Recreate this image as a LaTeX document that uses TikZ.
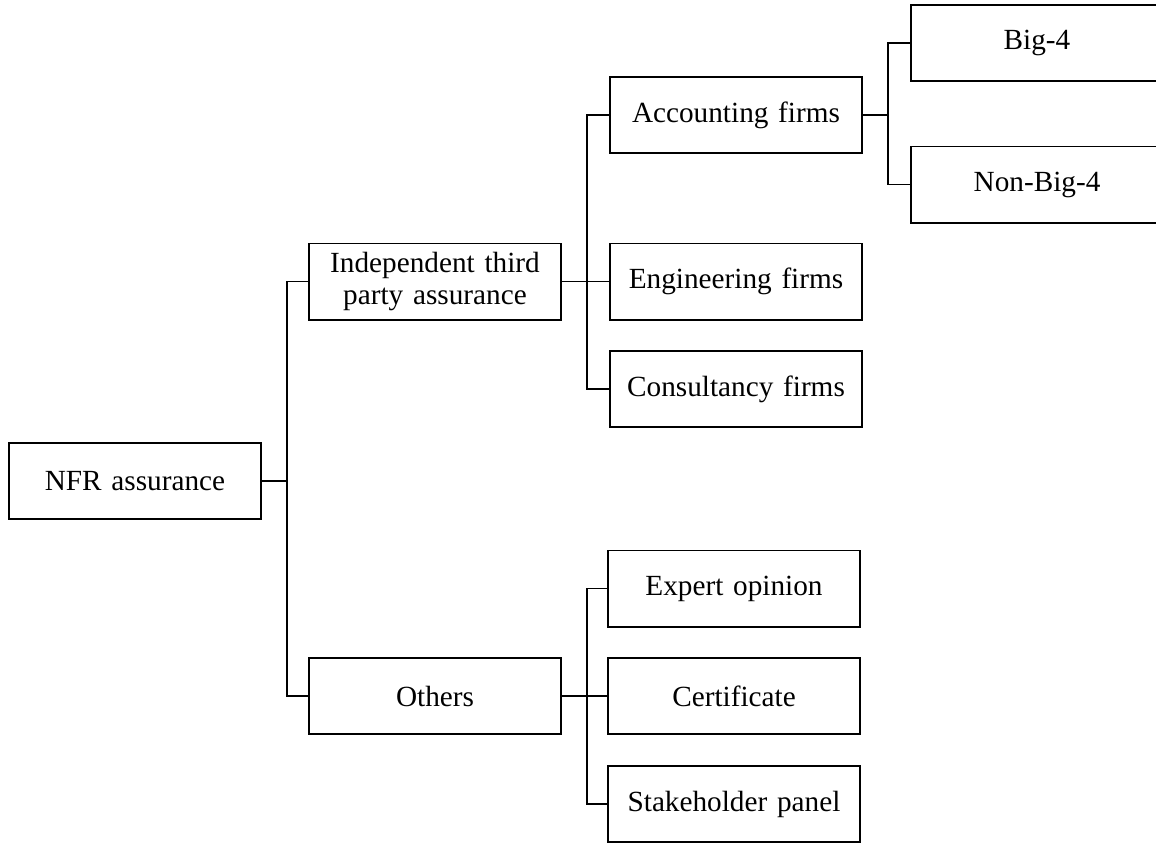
\documentclass[tikz,border=0pt]{standalone}
\usepackage{fontspec}
\setmainfont{Liberation Serif}
\usepackage{tikz}
\usetikzlibrary{positioning}

\begin{document}
\begin{tikzpicture}[
          x=0.025cm, y=-0.025cm,
          box/.style={draw=black, line width=1.4pt, fill=white,
                      font=\fontsize{20.8}{23}\selectfont,
                      minimum width=6.3cm, minimum height=1.9cm,
                      text width=6.1cm, align=center, inner sep=0pt},
          link/.style={draw=black, line width=1.4pt}
        ]
        \useasboundingbox (0,0) rectangle (1156,843);
        \node[box] (nfr)  at (135,481)   {NFR assurance};
        \node[box] (itpa) at (435,281.5) {Independent third\\party assurance};
        \node[box] (oth)  at (435,696)   {Others};
        \node[box] (acc)  at (736,115)   {Accounting firms};
        \node[box] (eng)  at (736,281.5) {Engineering firms};
        \node[box] (con)  at (736,389)   {Consultancy firms};
        \node[box] (exp)  at (734,588.5) {Expert opinion};
        \node[box] (cer)  at (734,696)   {Certificate};
        \node[box] (stk)  at (734,804)   {Stakeholder panel};
        \node[box] (big)  at (1037,43)   {Big-4};
        \node[box] (nbig) at (1037,184.5) {Non-Big-4};
        \foreach \x/\y in {nfr/itpa, nfr/oth, itpa/acc, itpa/eng, itpa/con,
                           oth/exp, oth/cer, oth/stk, acc/big, acc/nbig}
          \draw[link] (\x.east) -- ++(25,0) |- (\y.west);
      \end{tikzpicture}
\end{document}
